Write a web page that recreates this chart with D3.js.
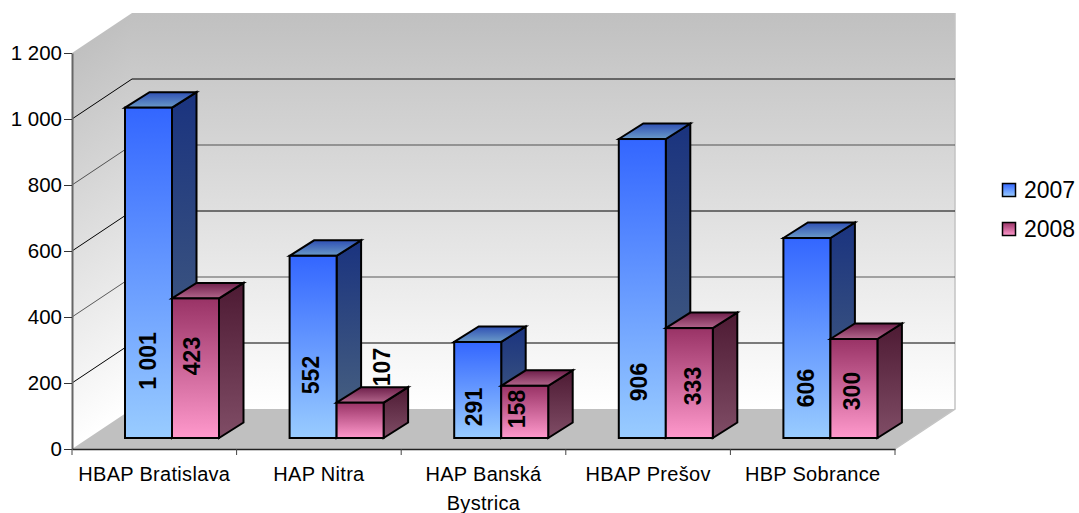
<!DOCTYPE html>
<html><head><meta charset="utf-8">
<script src="https://cdn.jsdelivr.net/npm/d3@7"></script>
<style>
html,body{margin:0;padding:0;background:#fff;overflow:hidden}
svg{display:block}
text{font-family:"Liberation Sans",Arial,sans-serif;fill:#000}
</style></head><body>
<svg id="c" width="1079" height="513"></svg>
<script>
const categories = ["HBAP Bratislava","HAP Nitra","HAP Banská Bystrica","HBAP Prešov","HBP Sobrance"];
const seriesNames = ["2007","2008"];
const values2007 = [1001,552,291,906,606];
const values2008 = [423,107,158,333,300];
const yTicks = [0,200,400,600,800,1000,1200];

// layout constants
const L=72,R=895,T=53,B=449,DX=60,DY=40;   // plot box and wall depth
const barDX=24.5,barDY=15.5,barW=47,floorLift=11,floorShift=17.7;
const labelLift=[[77,63,31,56,50],[82,71,29,52,47]];
const labelSide=[[-25,-26,-28,-27,-25],[-5,21,-9,3,-3]];

const svg=d3.select("#c");
const defs=svg.append("defs");
function grad(id,stops,attrs){
  const g=defs.append("linearGradient").attr("id",id);
  Object.entries(attrs||{x1:0,y1:0,x2:0,y2:1}).forEach(([k,v])=>g.attr(k,v));
  stops.forEach(([o,c])=>g.append("stop").attr("offset",o).attr("stop-color",c));
}
const wall=[[0,"#c0c0c0"],[1,"#ffffff"]];
grad("backWall",wall,{gradientUnits:"userSpaceOnUse",x1:0,y1:T-DY,x2:0,y2:B-DY});
const h=B-T,len=Math.hypot(DX,DY),nx=DY/len,ny=DX/len,d=h*ny;
grad("leftWall",wall,{gradientUnits:"userSpaceOnUse",x1:L,y1:T,x2:L+nx*d,y2:T+ny*d});
grad("f0",[[0,"#3366ff"],[1,"#99ccff"]]);
grad("s0",[[0,"#1a337f"],[1,"#4d6680"]]);
grad("t0",[[0,"#2f50b4"],[1,"#6a9ac8"]]);
grad("f1",[[0,"#993366"],[1,"#ff99cc"]]);
grad("s1",[[0,"#4d1a33"],[1,"#804d66"]]);
grad("t1",[[0,"#6e1f4a"],[1,"#b3668c"]]);

const y=d3.scaleLinear().domain([0,1200]).range([B,T]);
const x=d3.scaleBand().domain(categories).range([L,R]);
const xs=d3.scaleBand().domain(seriesNames).range([-barW,barW]);
const line=d3.line();

// walls and floor
svg.append("path").attr("d",line([[L,T],[L+DX,T-DY],[L+DX,B-DY],[L,B]])+"Z").attr("fill","url(#leftWall)");
svg.append("path").attr("d",line([[L+DX,T-DY],[R+DX,T-DY],[R+DX,B-DY],[L+DX,B-DY]])+"Z").attr("fill","url(#backWall)");
svg.append("path").attr("d",line([[L,B],[L+DX,B-DY],[R+DX,B-DY],[R,B]])+"Z").attr("fill","#c0c0c0");
svg.append("path").attr("d",line([[R+DX,T-DY],[R+DX,B-DY],[R,B]])).attr("fill","none").attr("stroke","#c4c4c4").attr("stroke-width",1.5);

// gridlines
yTicks.filter(v=>v>0&&v<1200).forEach(v=>{
  svg.append("path").attr("d",line([[L,y(v)],[L+DX,y(v)-DY],[R+DX,y(v)-DY]]))
    .attr("fill","none").attr("stroke","#000").attr("stroke-width",1).attr("stroke-opacity",(v/200)%2?1:0.62);
});

// axes
const fmt=d3.formatLocale({thousands:"\u00a0",grouping:[3],decimal:",",currency:["",""]}).format(",d");
const yAxis=svg.append("g").attr("transform",`translate(${L},0)`)
  .call(d3.axisLeft(y).tickValues(yTicks).tickFormat(fmt).tickSize(8).tickSizeOuter(0));
yAxis.selectAll("text").attr("font-size",20.5).attr("x",-10).attr("font-family",null);
yAxis.select(".domain").attr("stroke","#666").attr("stroke-width",2);
yAxis.selectAll(".tick line").attr("stroke","#333");

const xAxis=svg.append("g").attr("transform",`translate(0,${B})`)
  .call(d3.axisBottom(x).tickSize(0).tickSizeOuter(0));
xAxis.select(".domain").attr("stroke","#222").attr("stroke-width",1.3);
xAxis.selectAll(".tick text").each(function(c){
  const t=d3.select(this).text(null).attr("font-size",20).attr("y",32).attr("dy",0).attr("letter-spacing",0.3);
  const words=c==="HAP Banská Bystrica"?["HAP Banská","Bystrica"]:[c];
  words.forEach((w,i)=>t.append("tspan").attr("x",0).attr("y",32+i*29).text(w));
});
svg.selectAll(".xb").data(d3.range(categories.length+1)).join("line").attr("class","xb")
  .attr("x1",i=>L+i*x.bandwidth()).attr("x2",i=>L+i*x.bandwidth())
  .attr("y1",B).attr("y2",B+6).attr("stroke","#444");

// bars
const series=[values2007,values2008];
function drawLabel(g,v,s,i,x0){
  const cx=x0+barW/2+labelSide[s][i]+ (s===0?24:0)+(s===1?1:0);
  const cy=B-floorLift-labelLift[s][i];
  g.append("text").attr("transform",`translate(${cx+8},${cy}) rotate(-90)`)
    .attr("text-anchor","middle").attr("font-size",23).attr("font-weight","bold").text(fmt(v));
}
categories.forEach((c,i)=>{
  const g=svg.append("g");
  const base=y(0)-floorLift, cx=x(c)+x.bandwidth()/2+floorShift;
  seriesNames.forEach((n,s)=>{
    const v=series[s][i];
    const x0=cx+xs(n), x1=x0+barW, top=y(v)-floorLift;
    const behind=s===1&&v<120;
    if(behind) drawLabel(g,v,s,i,x0);
    const sty=p=>p.attr("stroke","#000").attr("stroke-width",2).attr("stroke-linejoin","miter");
    g.append("path").attr("d",line([[x1,top],[x1+barDX,top-barDY],[x1+barDX,base-barDY],[x1,base]])+"Z").attr("fill",`url(#s${s})`).call(sty);
    g.append("path").attr("d",line([[x0,top],[x0+barDX,top-barDY],[x1+barDX,top-barDY],[x1,top]])+"Z").attr("fill",`url(#t${s})`).call(sty);
    g.append("rect").attr("x",x0).attr("y",top).attr("width",barW).attr("height",base-top).attr("fill",`url(#f${s})`).call(sty);
    if(!behind) drawLabel(g,v,s,i,x0);
  });
});

// legend
seriesNames.forEach((n,s)=>{
  const ly=183+s*39;
  svg.append("rect").attr("x",1002.5).attr("y",ly+.5).attr("width",13).attr("height",13)
    .attr("fill",`url(#f${s})`).attr("stroke","#000").attr("stroke-width",1.5);
  svg.append("text").attr("x",1024).attr("y",ly+15).attr("font-size",23).text(n);
});
</script></body></html>
